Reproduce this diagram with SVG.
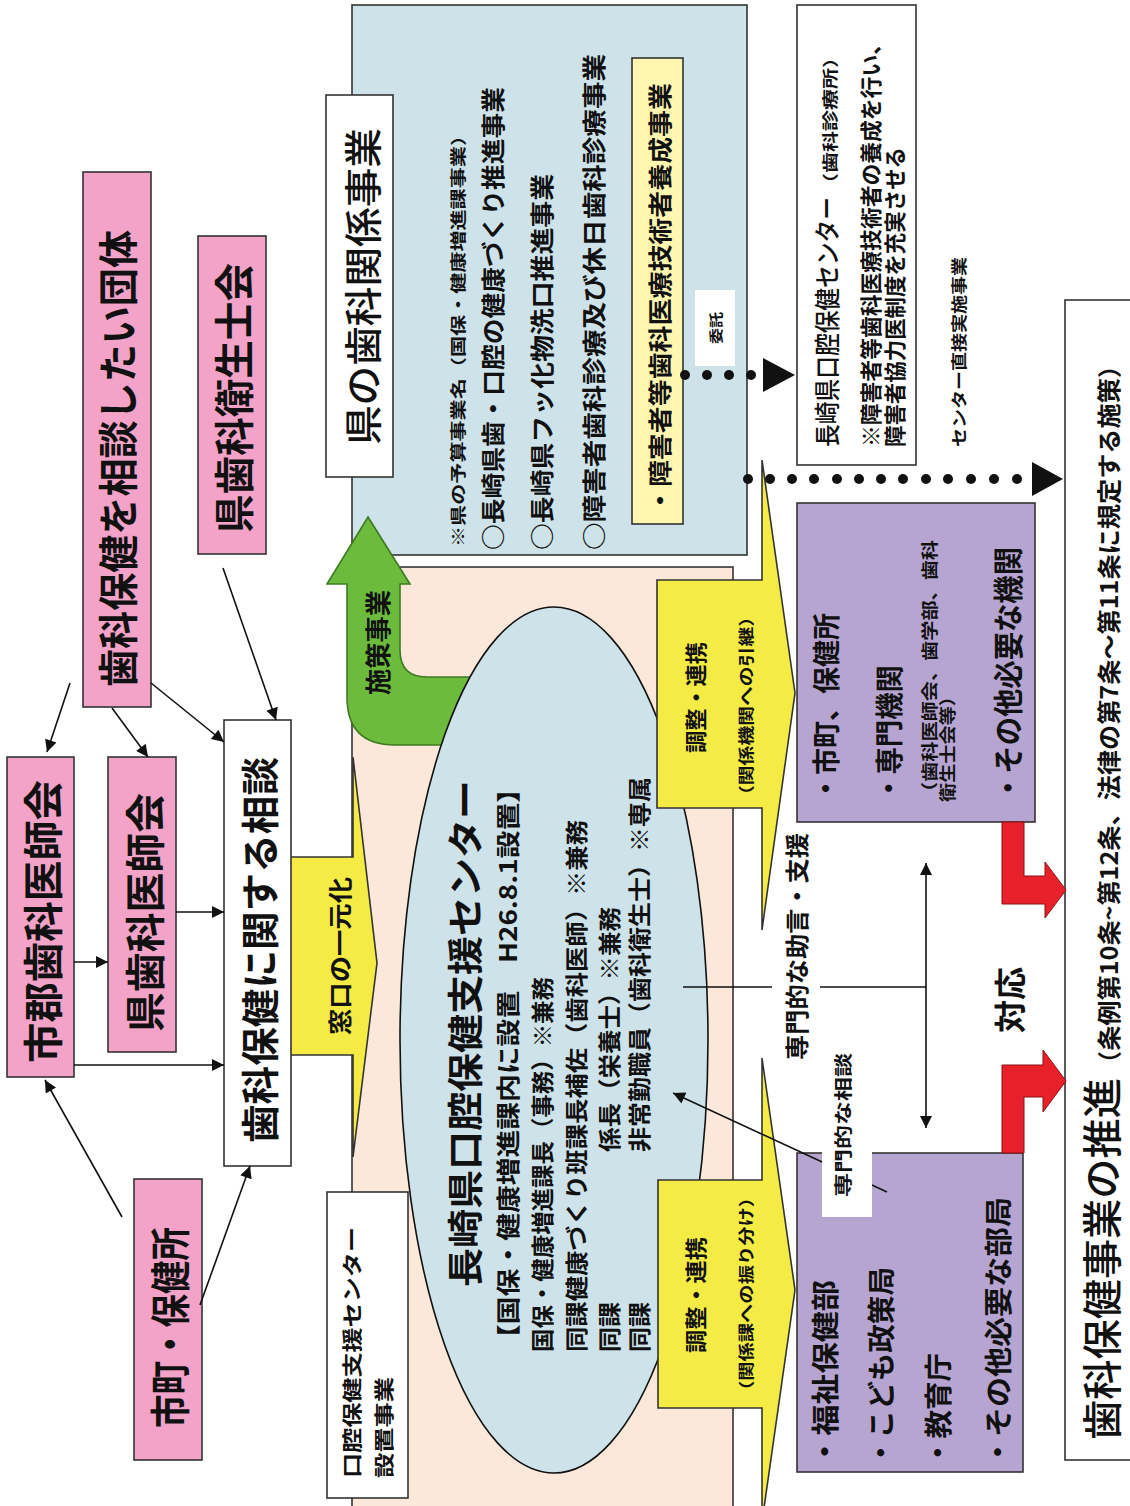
<svg xmlns="http://www.w3.org/2000/svg" width="1130" height="1506" viewBox="0 0 1130 1506">
<defs>
<marker id="ah" viewBox="0 0 10 10" refX="10" refY="5" markerWidth="14" markerHeight="12" markerUnits="userSpaceOnUse" orient="auto-start-reverse"><path d="M0,0 L10,5 L0,10 z" fill="#111"/></marker>
</defs>
<style>
.t{font-family:"Noto Sans CJK JP","Noto Sans CJK SC",sans-serif;fill:#111;dominant-baseline:central}
.b{font-weight:700}
.m{font-weight:500}
.box{stroke:#333;stroke-width:1.6}
.pink{fill:#F2A3C7}
.white{fill:#fff}
.purple{fill:#B5A5D0}
.yel{fill:#F4EC45;stroke:#333;stroke-width:1.6}
.ln{stroke:#111;stroke-width:1.6;fill:none}
.dot{fill:#111}
</style>
<rect width="1130" height="1506" fill="#fff"/>

<g id="blue-area">
<rect class="box" x="352" y="5" width="395" height="550" fill="#CEE2E9"/>
</g>
<g id="peach-area">
<rect class="box" x="352" y="567" width="381" height="960" fill="#FCE8DB"/>
</g>

<g id="ken-jigyo">
<rect class="box white" x="326" y="95" width="67" height="382"/>
<text class="t m" font-size="38" transform="translate(360,445) rotate(-90)" textLength="317" lengthAdjust="spacingAndGlyphs">県の歯科関係事業</text>
</g>
<g id="blue-items">
<text class="t b" font-size="16" transform="translate(457,547) rotate(-90)" textLength="422" lengthAdjust="spacingAndGlyphs">※県の予算事業名（国保・健康増進課事業）</text>
<text class="t b" font-size="24" transform="translate(491,550) rotate(-90)" textLength="463" lengthAdjust="spacingAndGlyphs">○長崎県歯・口腔の健康づくり推進事業</text>
<text class="t b" font-size="24" transform="translate(540,550) rotate(-90)" textLength="376" lengthAdjust="spacingAndGlyphs">○長崎県フッ化物洗口推進事業</text>
<text class="t b" font-size="24" transform="translate(592,550) rotate(-90)" textLength="496" lengthAdjust="spacingAndGlyphs">○障害者歯科診療及び休日歯科診療事業</text>
</g>
<g id="yousei">
<rect x="632" y="58" width="51" height="466" fill="#FFF6B0" stroke="#333" stroke-width="1.6"/>
<text class="t b" font-size="24" transform="translate(658,514) rotate(-90)" textLength="431" lengthAdjust="spacingAndGlyphs">・障害者等歯科医療技術者養成事業</text>
</g>
<g id="itaku">
<rect x="695" y="290" width="40" height="76" fill="#fff"/>
<text class="t b" font-size="14" transform="translate(715,344) rotate(-90)" textLength="32" lengthAdjust="spacingAndGlyphs">委託</text>
</g>

<g id="madoguchi">
<polygon class="yel" points="288,857 353,857 353,757 377,963 353,1157 353,1055 288,1055"/>
<text class="t b" font-size="24" transform="translate(338,1035) rotate(-90)" textLength="158" lengthAdjust="spacingAndGlyphs">窓口の一元化</text>
</g>

<g id="shisaku">
<path d="M368,517 L410,584 L400,584 L400,650 Q400,677 427,677 L478,677 L478,745 L395,745 Q347,745 347,697 L347,584 L327,584 Z" fill="#6CBB3C" stroke="#3D7A22" stroke-width="1.6"/>
<text class="t b" font-size="26" transform="translate(376,695) rotate(-90)" textLength="105" lengthAdjust="spacingAndGlyphs">施策事業</text>
</g>

<g id="setchi">
<rect class="box white" x="327" y="1192" width="81" height="306"/>
<text class="t b" font-size="20" transform="translate(351,1478) rotate(-90)" textLength="251" lengthAdjust="spacingAndGlyphs">口腔保健支援センター</text>
<text class="t b" font-size="20" transform="translate(383,1478) rotate(-90)" textLength="101" lengthAdjust="spacingAndGlyphs">設置事業</text>
</g>

<g id="center">
<ellipse cx="554" cy="1040" rx="154" ry="433" fill="#CEE2E9" stroke="#111" stroke-width="1.6"/>
<text class="t b" font-size="36" transform="translate(463,1287) rotate(-90)" textLength="507" lengthAdjust="spacingAndGlyphs">長崎県口腔保健支援センター</text>
<text class="t b" font-size="24" transform="translate(506,1352) rotate(-90)" textLength="577" lengthAdjust="spacingAndGlyphs">【国保・健康増進課内に設置　H26.8.1設置】</text>
<text class="t b" font-size="23" transform="translate(541,1352) rotate(-90)" textLength="375" lengthAdjust="spacingAndGlyphs">国保・健康増進課長（事務）※兼務</text>
<text class="t b" font-size="23" transform="translate(575,1352) rotate(-90)" textLength="532" lengthAdjust="spacingAndGlyphs">同課健康づくり班課長補佐（歯科医師）※兼務</text>
<text class="t b" font-size="23" transform="translate(608,1352) rotate(-90)" textLength="50" lengthAdjust="spacingAndGlyphs">同課</text>
<text class="t b" font-size="23" transform="translate(608,1152) rotate(-90)" textLength="245" lengthAdjust="spacingAndGlyphs">係長（栄養士）※兼務</text>
<text class="t b" font-size="23" transform="translate(638,1352) rotate(-90)" textLength="50" lengthAdjust="spacingAndGlyphs">同課</text>
<text class="t b" font-size="23" transform="translate(638,1152) rotate(-90)" textLength="375" lengthAdjust="spacingAndGlyphs">非常勤職員（歯科衛生士）※専属</text>
</g>

<g id="renkei-top">
<polygon class="yel" points="657,580 762,580 762,460 795,693 762,930 762,808 657,808"/>
<text class="t b" font-size="22" transform="translate(694,753) rotate(-90)" textLength="111" lengthAdjust="spacingAndGlyphs">調整・連携</text>
<text class="t b" font-size="16" transform="translate(745,805) rotate(-90)" textLength="198" lengthAdjust="spacingAndGlyphs">（関係機関への引継）</text>
</g>
<g id="renkei-bottom">
<polygon class="yel" points="658,1180 762,1180 762,1058 795,1290 762,1522 762,1408 658,1408"/>
<text class="t b" font-size="22" transform="translate(694,1353) rotate(-90)" textLength="116" lengthAdjust="spacingAndGlyphs">調整・連携</text>
<text class="t b" font-size="16" transform="translate(745,1400) rotate(-90)" textLength="212" lengthAdjust="spacingAndGlyphs">（関係課への振り分け）</text>
</g>

<g id="kouku-center">
<rect class="box white" x="797" y="5" width="119" height="460"/>
<text class="t m" font-size="26" transform="translate(825,447) rotate(-90)" textLength="250" lengthAdjust="spacingAndGlyphs">長崎県口腔保健センター</text>
<text class="t b" font-size="16" transform="translate(829,194) rotate(-90)" textLength="147" lengthAdjust="spacingAndGlyphs">（歯科診療所）</text>
<text class="t b" font-size="22" transform="translate(869,447) rotate(-90)" textLength="414" lengthAdjust="spacingAndGlyphs">※障害者等歯科医療技術者の養成を行い、</text>
<text class="t b" font-size="22" transform="translate(893,447) rotate(-90)" textLength="300" lengthAdjust="spacingAndGlyphs">障害者協力医制度を充実させる</text>
</g>
<g id="chokusetsu">
<text class="t b" font-size="16" transform="translate(958,447) rotate(-90)" textLength="190" lengthAdjust="spacingAndGlyphs">センター直接実施事業</text>
</g>

<g id="kikan">
<rect class="box purple" x="797" y="503" width="238" height="319"/>
<text class="t b" font-size="28" transform="translate(825,802) rotate(-90)" textLength="189" lengthAdjust="spacingAndGlyphs">・市町、保健所</text>
<text class="t b" font-size="28" transform="translate(888,802) rotate(-90)" textLength="137" lengthAdjust="spacingAndGlyphs">・専門機関</text>
<text class="t b" font-size="17" transform="translate(928,802) rotate(-90)" textLength="262" lengthAdjust="spacingAndGlyphs">（歯科医師会、歯学部、歯科</text>
<text class="t b" font-size="17" transform="translate(946,802) rotate(-90)" textLength="115" lengthAdjust="spacingAndGlyphs">衛生士会等）</text>
<text class="t b" font-size="30" transform="translate(1006,802) rotate(-90)" textLength="255" lengthAdjust="spacingAndGlyphs">・その他必要な機関</text>
</g>
<g id="bukyoku">
<rect class="box purple" x="797" y="1153" width="226" height="319"/>
<text class="t b" font-size="28" transform="translate(824,1467) rotate(-90)" textLength="187" lengthAdjust="spacingAndGlyphs">・福祉保健部</text>
<text class="t b" font-size="28" transform="translate(880,1467) rotate(-90)" textLength="200" lengthAdjust="spacingAndGlyphs">・こども政策局</text>
<text class="t b" font-size="28" transform="translate(937,1467) rotate(-90)" textLength="114" lengthAdjust="spacingAndGlyphs">・教育庁</text>
<text class="t b" font-size="28" transform="translate(997,1467) rotate(-90)" textLength="270" lengthAdjust="spacingAndGlyphs">・その他必要な部局</text>
</g>

<g id="suishin">
<rect class="box white" x="1065" y="300" width="80" height="1160"/>
<text class="t m" font-size="40" transform="translate(1100,1440) rotate(-90)" textLength="362" lengthAdjust="spacingAndGlyphs">歯科保健事業の推進</text>
<text class="t b" font-size="24" transform="translate(1107,1076) rotate(-90)" textLength="723" lengthAdjust="spacingAndGlyphs">（条例第10条~第12条、法律の第7条～第11条に規定する施策）</text>
</g>

<g id="gunshi">
<rect class="box pink" x="7" y="757" width="67" height="320"/>
<text class="t b" font-size="40" transform="translate(41,1063) rotate(-90)" textLength="283" lengthAdjust="spacingAndGlyphs">市郡歯科医師会</text>
</g>
<g id="kenshi">
<rect class="box pink" x="108" y="757" width="68" height="295"/>
<text class="t b" font-size="40" transform="translate(143,1032) rotate(-90)" textLength="239" lengthAdjust="spacingAndGlyphs">県歯科医師会</text>
</g>
<g id="dantai">
<rect class="box pink" x="83" y="172" width="68" height="535"/>
<text class="t b" font-size="40" transform="translate(116,687) rotate(-90)" textLength="457" lengthAdjust="spacingAndGlyphs">歯科保健を相談したい団体</text>
</g>
<g id="eiseishi">
<rect class="box pink" x="198" y="236" width="68" height="318"/>
<text class="t b" font-size="40" transform="translate(232,533) rotate(-90)" textLength="270" lengthAdjust="spacingAndGlyphs">県歯科衛生士会</text>
</g>
<g id="shicho">
<rect class="box pink" x="134" y="1179" width="68" height="281"/>
<text class="t b" font-size="40" transform="translate(168,1428) rotate(-90)" textLength="201" lengthAdjust="spacingAndGlyphs">市町・保健所</text>
</g>
<g id="soudan">
<rect class="box white" x="224" y="720" width="67" height="446"/>
<text class="t b" font-size="38" transform="translate(257,1143) rotate(-90)" textLength="386" lengthAdjust="spacingAndGlyphs">歯科保健に関する相談</text>
</g>

<g id="connectors">
<path class="ln" d="M70,683 L47,752" marker-end="url(#ah)"/>
<path class="ln" d="M112,708 L148,757" marker-end="url(#ah)"/>
<path class="ln" d="M151,683 L224,742" marker-end="url(#ah)"/>
<path class="ln" d="M223,568 L276,720" marker-end="url(#ah)"/>
<path class="ln" d="M74,962 L108,962" marker-end="url(#ah)"/>
<path class="ln" d="M176,912 L224,912" marker-end="url(#ah)"/>
<path class="ln" d="M74,1065 L224,1065" marker-end="url(#ah)"/>
<path class="ln" d="M122,1217 L45,1080" marker-end="url(#ah)"/>
<path class="ln" d="M200,1305 L250,1166" marker-end="url(#ah)"/>
<path class="ln" d="M887,1192 L673,1093" marker-end="url(#ah)"/>
<path class="ln" d="M683,987 L772,987 M820,987 L926,987"/>
<path class="ln" d="M926,863 L926,1128" marker-start="url(#ah)" marker-end="url(#ah)"/>
<g class="dot">
<circle cx="685" cy="375" r="5"/><circle cx="707" cy="375" r="5"/><circle cx="729" cy="375" r="5"/><circle cx="751" cy="375" r="5"/>
<polygon points="763,358 795,375 763,392"/>
<circle cx="748" cy="479" r="5"/><circle cx="770" cy="479" r="5"/><circle cx="792" cy="479" r="5"/><circle cx="814" cy="479" r="5"/><circle cx="837" cy="479" r="5"/><circle cx="859" cy="479" r="5"/><circle cx="881" cy="479" r="5"/><circle cx="903" cy="479" r="5"/><circle cx="926" cy="479" r="5"/><circle cx="948" cy="479" r="5"/><circle cx="971" cy="479" r="5"/><circle cx="994" cy="479" r="5"/><circle cx="1017" cy="479" r="5"/>
<polygon points="1032,462 1063,479 1032,496"/>
</g>
<path d="M1002,822 L1024,822 L1024,876 L1045,876 L1045,862 L1066,890 L1045,918 L1045,904 L1002,904 Z" fill="#E8202A" stroke="#8a1016" stroke-width="1"/>
<path d="M1002,1153 L1002,1065 L1043,1065 L1043,1050 L1066,1081 L1043,1112 L1043,1097 L1024,1097 L1024,1153 Z" fill="#E8202A" stroke="#8a1016" stroke-width="1"/>
</g>

<g id="label-senmon-soudan">
<rect x="822" y="1042" width="50" height="175" fill="#fff"/>
<text class="t b" font-size="18" transform="translate(842,1197) rotate(-90)" textLength="144" lengthAdjust="spacingAndGlyphs">専門的な相談</text>
</g>
<g id="label-jogen">
<text class="t b" font-size="24" transform="translate(795,1060) rotate(-90)" textLength="227" lengthAdjust="spacingAndGlyphs">専門的な助言・支援</text>
</g>
<g id="label-taiou">
<text class="t b" font-size="32" transform="translate(1008,1033) rotate(-90)" textLength="66" lengthAdjust="spacingAndGlyphs">対応</text>
</g>
</svg>
